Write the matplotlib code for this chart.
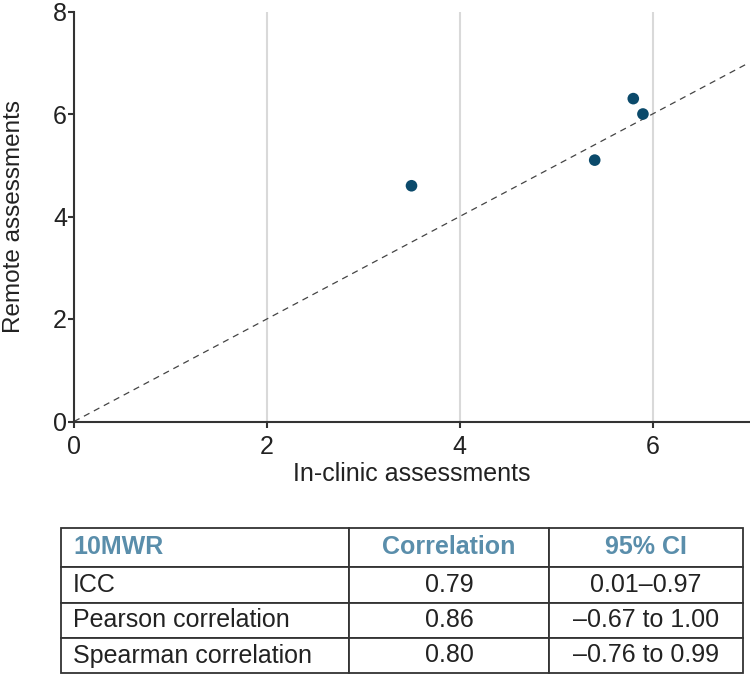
import numpy as np
import matplotlib
matplotlib.use('Agg')
from matplotlib import pyplot as plt

plt.rcParams['font.family'] = ['Liberation Sans', 'DejaVu Sans']

# scatter data: in-clinic vs remote 10MWR
in_clinic = [3.5, 5.4, 5.8, 5.9]
remote = [4.6, 5.1, 6.3, 6.0]

x_ticks = [0, 2, 4, 6]
y_ticks = [0, 2, 4, 6, 8]

# table contents
table_header = ['10MWR', 'Correlation', '95% CI']
row_names = ['ICC', 'Pearson correlation', 'Spearman correlation']
corr_values = ['0.79', '0.86', '0.80']
ci_values = ['0.01\u20130.97', '\u20130.67 to 1.00', '\u20130.76 to 0.99']

dot_color = '#0b4a6b'
head_color = '#5a8eab'
line_color = '#333333'

fig = plt.figure(figsize=(7.5, 6.75), dpi=100)
ax = fig.add_axes([74 / 750, 1 - 421.5 / 675, 675 / 750, 410 / 675])

ax.set_xlim(0, 7)
ax.set_ylim(0, 8)
ax.set_xticks(x_ticks)
ax.set_yticks(y_ticks)
ax.grid(axis='x', color='#d9d9d9', linewidth=1.5)
ax.set_axisbelow(True)

ax.plot([0, 7], [0, 7], linestyle=(0, (5, 4)), color='#444444', linewidth=0.9)
ax.scatter(in_clinic, remote, s=70, color=dot_color, zorder=3, edgecolors='none')

for side in ['top', 'right']:
    ax.spines[side].set_visible(False)
for side in ['left', 'bottom']:
    ax.spines[side].set_color(line_color)
    ax.spines[side].set_linewidth(1.5)

ax.tick_params(axis='both', labelsize=18, labelcolor='#222222',
               color=line_color, width=1.5, length=4)
ax.tick_params(axis='x', pad=6)
ax.tick_params(axis='y', pad=1)

ax.set_xlabel('In-clinic assessments', fontsize=18, labelpad=2, color='#222222')
ax.set_ylabel('Remote assessments', fontsize=17.5, color='#222222')
ax.yaxis.set_label_coords(-0.073, 0.5)

# table below the plot
tax = fig.add_axes([61 / 750, 1 - 673 / 675, 682 / 750, 145 / 675])
tax.axis('off')
cells = [[n, c, ci] for n, c, ci in zip(row_names, corr_values, ci_values)]
tbl = tax.table(cellText=[table_header] + cells,
                colWidths=[288, 200, 194],
                bbox=[0, 0, 1, 1])
tbl.auto_set_font_size(False)
heights = [39, 35.5, 35.5, 35]
for (r, c), cell in tbl.get_celld().items():
    cell.set_edgecolor(line_color)
    cell.set_linewidth(1.3)
    cell.set_height(heights[r])
    txt = cell.get_text()
    txt.set_fontsize(18)
    txt.set_color('#222222')
    if c == 0:
        cell.set_text_props(ha='left')
        cell._loc = 'left'
        cell.PAD = 12 / 288
    else:
        cell._loc = 'center'
        txt.set_ha('center')
    if r == 0:
        txt.set_color(head_color)
        txt.set_fontweight('bold')

fig.savefig('out.png', dpi=100)
